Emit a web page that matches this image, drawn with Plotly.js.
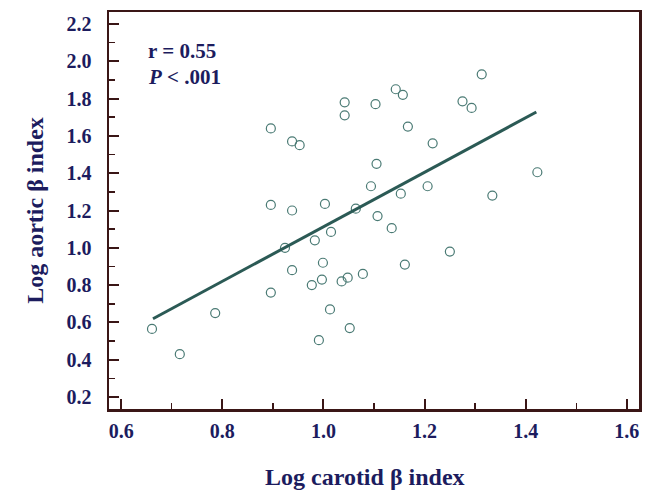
<!DOCTYPE html>
<html>
<head>
<meta charset="utf-8">
<script src="https://cdn.plot.ly/plotly-3.0.1.min.js"></script>
<style>html,body{margin:0;padding:0;background:#fff;}#chart{width:654px;height:490px;}</style>
</head>
<body>
<div id="chart"></div>
<script>
// Data
var carotid = [0.661,0.716,0.786,0.896,0.896,0.896,0.924,0.938,0.953,0.938,0.938,0.977,0.983,0.991,0.997,0.999,1.003,1.015,1.013,1.036,1.048,1.042,1.042,1.052,1.064,1.078,1.094,1.103,1.105,1.107,1.135,1.143,1.157,1.153,1.161,1.167,1.206,1.216,1.250,1.275,1.293,1.313,1.334,1.423];
var aortic  = [0.565,0.430,0.650,1.640,1.230,0.760,1.000,1.570,1.550,1.200,0.880,0.800,1.040,0.505,0.830,0.920,1.235,1.085,0.670,0.820,0.840,1.780,1.710,0.570,1.210,0.860,1.330,1.770,1.450,1.170,1.105,1.850,1.820,1.290,0.910,1.650,1.330,1.560,0.980,1.785,1.750,1.930,1.280,1.405];
var fitX = [0.663, 1.421];
var fitY = [0.620, 1.728];
var xTicks = [0.6,0.8,1.0,1.2,1.4,1.6];
var xTickLabels = ["0.6","0.8","1.0","1.2","1.4","1.6"];
var yTicks = [0.2,0.4,0.6,0.8,1.0,1.2,1.4,1.6,1.8,2.0,2.2];
var yTickLabels = ["0.2","0.4","0.6","0.8","1.0","1.2","1.4","1.6","1.8","2.0","2.2"];

var navy = "#1c1c5e";
var axisCol = "#3a1616";
var fontFam = "Liberation Serif, Times New Roman, serif";

var traces = [
  {x: carotid, y: aortic, type: "scatter", mode: "markers",
   marker: {symbol: "circle-open", size: 9, color: "#4a7a74", line: {width: 1.2, color: "#4a7a74"}},
   hoverinfo: "skip", showlegend: false},
  {x: fitX, y: fitY, type: "scatter", mode: "lines",
   line: {color: "#2b5a55", width: 3}, hoverinfo: "skip", showlegend: false}
];

var axisCommon = {
  showline: true, linecolor: axisCol, linewidth: 2.5, mirror: true,
  ticks: "inside", ticklen: 10, tickwidth: 2, tickcolor: axisCol,
  showgrid: false, zeroline: false,
  tickfont: {family: fontFam, size: 20, color: navy, weight: "bold"}
};

var layout = {
  width: 654, height: 490,
  margin: {l: 109, r: 15, t: 12, b: 81},
  paper_bgcolor: "#fff", plot_bgcolor: "#fff",
  xaxis: Object.assign({}, axisCommon, {
    range: [0.576, 1.624], tickmode: "array", tickvals: xTicks, ticktext: xTickLabels,
    ticklabelstandoff: 2,
    minor: {ticks: "inside", dtick: 0.1, tick0: 0.6, ticklen: 6, tickwidth: 1.5, tickcolor: axisCol}
  }),
  yaxis: Object.assign({}, axisCommon, {
    range: [0.136, 2.264], tickmode: "array", tickvals: yTicks, ticktext: yTickLabels,
    ticklabelstandoff: 11,
    minor: {ticks: "inside", dtick: 0.1, tick0: 0.2, ticklen: 6, tickwidth: 1.5, tickcolor: axisCol},
    title: {text: "<b>Log aortic β index</b>", font: {family: fontFam, size: 24, color: navy}, standoff: 16}
  }),
  annotations: [
    {xref: "paper", yref: "paper", x: 0.483, y: -0.171, xanchor: "center", yanchor: "middle",
     text: "<b>Log carotid β index</b>", showarrow: false, font: {family: fontFam, size: 24, color: navy}},
    {xref: "paper", yref: "paper", x: 0.07, y: 0.902, xanchor: "left", yanchor: "middle",
     text: "<b>r = 0.55</b>", showarrow: false, font: {family: fontFam, size: 21, color: navy}},
    {xref: "paper", yref: "paper", x: 0.07, y: 0.836, xanchor: "left", yanchor: "middle",
     text: "<b><i>P</i> &lt; .001</b>", showarrow: false, font: {family: fontFam, size: 21, color: navy}}
  ]
};

Plotly.newPlot("chart", traces, layout, {staticPlot: true, displayModeBar: false});
</script>
</body>
</html>
